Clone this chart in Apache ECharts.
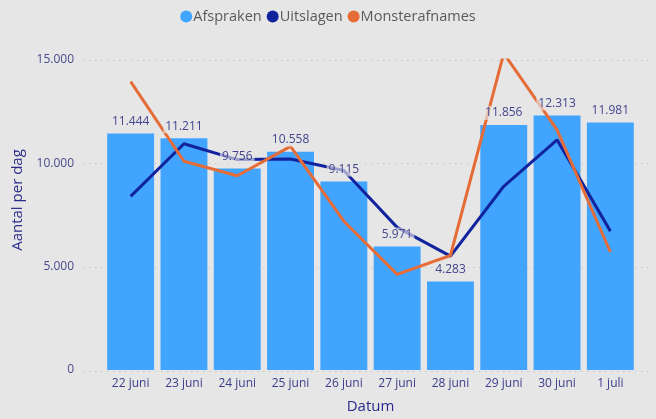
<!DOCTYPE html>
<html><head><meta charset="utf-8">
<script src="https://cdn.jsdelivr.net/npm/echarts@6/dist/echarts.min.js"></script>
<style>html,body{margin:0;padding:0;background:#e6e6e6;}#c{width:656px;height:419px;}</style>
</head><body><div id="c"></div>
<script>
const categories = ['22 juni','23 juni','24 juni','25 juni','26 juni','27 juni','28 juni','29 juni','30 juni','1 juli'];
const afspraken = [11444, 11211, 9756, 10558, 9115, 5971, 4283, 11856, 12313, 11981];
const uitslagen = [8400, 10950, 10180, 10210, 9650, 6900, 5510, 8890, 11140, 6720];
const monsterafnames = [13950, 10100, 9400, 10820, 7200, 4630, 5540, 15320, 11620, 5710];
const yTicks = [0, 5000, 10000, 15000];

function fmt(v){ return String(Math.round(v)).replace(/\B(?=(\d{3})+(?!\d))/g, '.'); }
const font = '"Open Sans", "Noto Sans", sans-serif';
const yMin = yTicks[0], yMax = yTicks[yTicks.length-1];
const chart = echarts.init(document.getElementById('c'));
chart.setOption({
  backgroundColor: '#e6e6e6',
  textStyle: { fontFamily: font },
  legend: {
    top: 4, left: 'center', itemGap: 5, itemWidth: 12, itemHeight: 12,
    icon: 'circle',
    textStyle: { color: '#5a5a5a', fontSize: 14.5, fontFamily: font, padding: [0,0,0,-4] },
    data: ['Afspraken','Uitslagen','Monsterafnames']
  },
  graphic: [{
    type: 'text', rotation: Math.PI/2, x: 18, y: 200,
    style: { text: 'Aantal per dag', fill: '#2b2b8c', fontSize: 15, fontFamily: font,
             textAlign: 'center', textVerticalAlign: 'middle', align: 'center', verticalAlign: 'middle' }
  }],
  grid: [
    { left: 104, right: 19, top: 60, bottom: 48 },
    { left: 83, right: 6, top: 60, bottom: 48 }
  ],
  xAxis: [{
    type: 'category', data: categories, gridIndex: 0,
    name: 'Datum', nameLocation: 'middle', nameGap: 29,
    nameTextStyle: { color: '#2b2b8c', fontSize: 15, fontFamily: font },
    axisLine: { show: false }, axisTick: { show: false },
    axisLabel: { color: '#3c3c8c', fontSize: 12, margin: 8, fontFamily: font }
  }, {
    type: 'category', data: categories, gridIndex: 1, show: false
  }],
  yAxis: [{
    type: 'value', min: yMin, max: yMax, interval: 5000, gridIndex: 0,
    axisLine: { show: false }, axisTick: { show: false },
    axisLabel: { color: '#4a4a8c', fontSize: 12, margin: 30, formatter: fmt, fontFamily: font },
    splitLine: { show: false }
  }, {
    type: 'value', min: yMin, max: yMax, interval: 5000, gridIndex: 1,
    axisLine: { show: false }, axisTick: { show: false }, axisLabel: { show: false },
    splitLine: { lineStyle: { color: '#c6c6c6', type: [1.5, 4.5], width: 1.2 } }
  }],
  series: [
    {
      name: 'Afspraken', type: 'bar', data: afspraken,
      barCategoryGap: '12%',
      itemStyle: { color: '#41a4ff' },
      z: 1
    },
    {
      name: 'Uitslagen', type: 'line', data: uitslagen, symbol: 'none', clip: false,
      itemStyle: { color: '#12239e' }, lineStyle: { color: '#12239e', width: 3 }, z: 3
    },
    {
      name: 'Monsterafnames', type: 'line', data: monsterafnames, symbol: 'none', clip: false,
      itemStyle: { color: '#e66c37' }, lineStyle: { color: '#e66c37', width: 3 }, z: 4
    },
    {
      name: 'AfsprakenLabels', type: 'bar', data: afspraken,
      barCategoryGap: '12%', barGap: '-100%',
      itemStyle: { color: 'rgba(0,0,0,0)' },
      label: {
        show: true, position: 'top', distance: 5, formatter: p => fmt(p.value),
        color: '#44448f', fontSize: 12, fontFamily: font,
        backgroundColor: 'rgba(230,230,230,0.65)', padding: [1, 2]
      },
      silent: true, z: 10
    }
  ]
});
</script></body></html>
